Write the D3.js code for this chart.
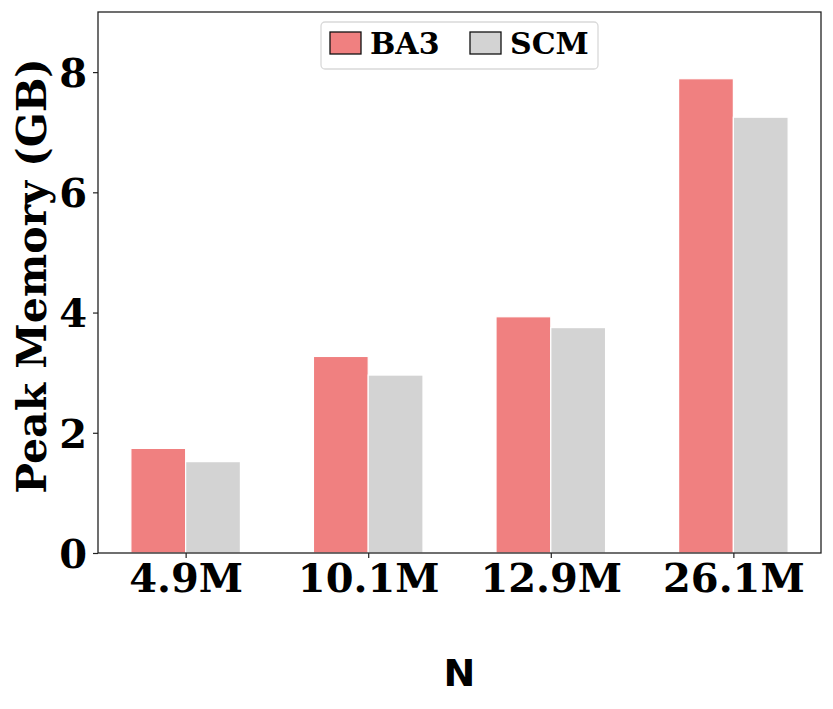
<!DOCTYPE html>
<html>
<head>
<meta charset="utf-8">
<script src="https://d3js.org/d3.v7.min.js"></script>
<style>
  body { margin: 0; background: #fff; }
  svg { font-family: "DejaVu Serif", serif; font-weight: bold; }
</style>
</head>
<body>
<svg width="833" height="709"></svg>
<script>
const categories = ["4.9M", "10.1M", "12.9M", "26.1M"];
const seriesNames = ["BA3", "SCM"];
const ba3 = [1.74, 3.27, 3.93, 7.89];
const scm = [1.52, 2.96, 3.75, 7.25];
const yTicks = [0, 2, 4, 6, 8];
const colors = { BA3: "#f08080", SCM: "#d3d3d3" };

const margin = { top: 12, right: 12, bottom: 156, left: 98 };
const width = 833 - margin.left - margin.right;
const height = 709 - margin.top - margin.bottom;

const svg = d3.select("svg")
  .append("g")
  .attr("transform", `translate(${margin.left},${margin.top})`);

// matplotlib-style index axis: bars of width 0.3 at i -/+ 0.15
const x = d3.scaleLinear().domain([-0.48, 3.48]).range([0, width]);
const y = d3.scaleLinear().domain([0, 9]).range([height, 0]);
const bw = 0.3;

const rows = categories.map((c, i) => ({ c, i, BA3: ba3[i], SCM: scm[i] }));

seriesNames.forEach((s, k) => {
  svg.selectAll(".bar-" + s)
    .data(rows)
    .join("rect")
    .attr("class", "bar-" + s)
    .attr("x", d => x(d.i + (k - 1) * bw))
    .attr("width", x(bw) - x(0))
    .attr("y", d => y(d[s]))
    .attr("height", d => y(0) - y(d[s]))
    .attr("fill", colors[s])
    .attr("stroke", "#fff")
    .attr("stroke-width", 1.2);
});

// frame
svg.append("rect")
  .attr("width", width).attr("height", height)
  .attr("fill", "none").attr("stroke", "#222").attr("stroke-width", 1.3);

const xAxis = svg.append("g")
  .attr("transform", `translate(0,${height})`)
  .call(d3.axisBottom(x).tickValues(d3.range(categories.length))
    .tickFormat(i => categories[i]).tickSize(5).tickPadding(6));
xAxis.select(".domain").remove();
xAxis.selectAll("text").style("font-size", "40px").attr("fill", "#000")
  .style("font-family", "DejaVu Serif").style("font-weight", "bold");
xAxis.selectAll("line").attr("stroke", "#222").attr("stroke-width", 1.2);

const yAxis = svg.append("g")
  .call(d3.axisLeft(y).tickValues(yTicks).tickSize(5).tickPadding(6));
yAxis.select(".domain").remove();
yAxis.selectAll("text").style("font-size", "40px").attr("fill", "#000")
  .attr("dy", "0.36em")
  .style("font-family", "DejaVu Serif").style("font-weight", "bold");
yAxis.selectAll("line").attr("stroke", "#222").attr("stroke-width", 1.2);

// axis titles
svg.append("text")
  .attr("transform", `translate(${31 - margin.left},${276 - margin.top}) rotate(-90)`)
  .attr("text-anchor", "middle")
  .attr("dy", "0.36em")
  .style("font-size", "41px")
  .text("Peak Memory (GB)");

svg.append("text")
  .attr("x", width / 2)
  .attr("y", 686 - margin.top)
  .attr("text-anchor", "middle")
  .style("font-family", "DejaVu Sans")
  .style("font-size", "38px")
  .text("N");

// legend
const lg = svg.append("g").attr("transform", `translate(${321 - margin.left},${22 - margin.top})`);
lg.append("rect")
  .attr("width", 277).attr("height", 47).attr("rx", 4)
  .attr("fill", "#fff").attr("fill-opacity", 0.8)
  .attr("stroke", "#d9d9d9").attr("stroke-width", 1.3);
const items = lg.selectAll(".item")
  .data(seriesNames)
  .join("g")
  .attr("class", "item")
  .attr("transform", (d, i) => `translate(${9 + i * 140},10)`);
items.append("rect")
  .attr("width", 31).attr("height", 22)
  .attr("fill", d => colors[d])
  .attr("stroke", "#111").attr("stroke-width", 1.3);
items.append("text")
  .attr("x", 40).attr("y", 11).attr("dy", "0.36em")
  .style("font-size", "30px")
  .text(d => d);
</script>
</body>
</html>
